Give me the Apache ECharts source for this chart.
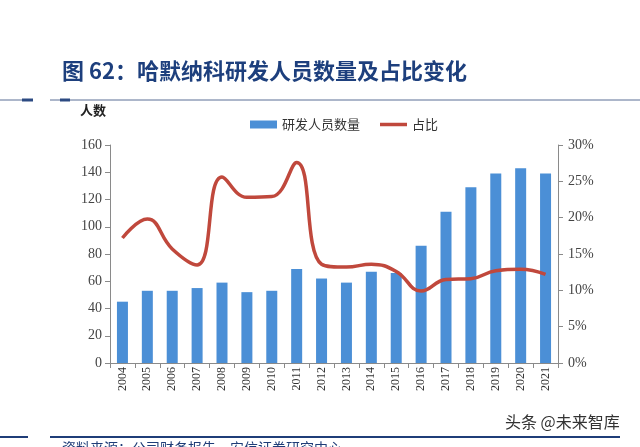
<!DOCTYPE html>
<html>
<head>
<meta charset="utf-8">
<script src="https://cdn.jsdelivr.net/npm/echarts@6/dist/echarts.min.js"></script>
<style>html,body{margin:0;padding:0;background:#fff;}#c{width:640px;height:447px;}</style>
</head>
<body>
<div id="c"></div>
<script>
const years = ['2004','2005','2006','2007','2008','2009','2010','2011','2012','2013','2014','2015','2016','2017','2018','2019','2020','2021'];
const staff = [45, 53, 53, 55, 59, 52, 53, 69, 62, 59, 67, 66, 86, 111, 129, 139, 143, 139];
const ratio = [17.2, 19.8, 15.7, 13.5, 25.6, 22.8, 22.9, 27.6, 13.6, 13.2, 13.6, 12.6, 9.9, 11.5, 11.6, 12.7, 12.9, 12.2];
const leftTicks = [0, 160, 20];
const rightTicks = [0, 30, 5];

const chart = echarts.init(document.getElementById('c'));
const serif = '"Liberation Serif", "DejaVu Serif", serif';
const cjk = '"Noto Sans CJK SC", sans-serif';
const axisLine = {show: true, lineStyle: {color: '#8a8a8a', width: 1}};
chart.setOption({
  animation: false,
  title: {
    text: '图 62：哈默纳科研发人员数量及占比变化',
    left: 57, top: 55,
    textStyle: {fontFamily: cjk, fontSize: 22, fontWeight: 'bold', color: '#1d3f7d'}
  },
  legend: {
    left: 245, top: 113,
    itemWidth: 27, itemHeight: 8, itemGap: 20,
    textStyle: {fontFamily: cjk, fontSize: 13, color: '#333'},
    data: [
      {name: '研发人员数量', icon: 'rect'},
      {name: '占比', icon: 'path://M0,0 L27,0 L27,3.5 L0,3.5 Z'}
    ]
  },
  grid: {left: 110, right: 82, top: 145, bottom: 84},
  xAxis: {
    type: 'category', data: years,
    axisLine: axisLine,
    axisTick: {show: true, alignWithLabel: false, length: 5, lineStyle: {color: '#8a8a8a'}},
    axisLabel: {rotate: 90, fontFamily: serif, fontSize: 12, color: '#333', margin: 4}
  },
  yAxis: [{
    type: 'value', min: leftTicks[0], max: leftTicks[1], interval: leftTicks[2],
    axisLine: axisLine,
    axisTick: {show: true, length: 5, lineStyle: {color: '#8a8a8a'}},
    splitLine: {show: false},
    axisLabel: {fontFamily: serif, fontSize: 14, color: '#444', margin: 8}
  }, {
    type: 'value', min: rightTicks[0], max: rightTicks[1], interval: rightTicks[2],
    axisLine: axisLine,
    axisTick: {show: true, length: 5, lineStyle: {color: '#8a8a8a'}},
    splitLine: {show: false},
    axisLabel: {fontFamily: serif, fontSize: 14, color: '#444', margin: 10, formatter: '{value}%'}
  }],
  series: [{
    name: '研发人员数量', type: 'bar', data: staff, barWidth: 11,
    itemStyle: {color: '#4b8fd6'}
  }, {
    name: '占比', type: 'line', yAxisIndex: 1, data: ratio, smooth: 0.45,
    symbol: 'none', lineStyle: {color: '#c0483c', width: 3.5},
    itemStyle: {color: '#c0483c'}
  }],
  graphic: [
    {type: 'line', shape: {x1: 0, y1: 100, x2: 28, y2: 100}, style: {stroke: '#5b6f95', lineWidth: 1}},
    {type: 'line', shape: {x1: 22, y1: 100, x2: 33, y2: 100}, style: {stroke: '#2c4a82', lineWidth: 3}},
    {type: 'line', shape: {x1: 50, y1: 100, x2: 640, y2: 100}, style: {stroke: '#5b6f95', lineWidth: 1}},
    {type: 'line', shape: {x1: 60, y1: 100, x2: 70, y2: 100}, style: {stroke: '#2c4a82', lineWidth: 3}},
    {type: 'text', left: 80, top: 104, style: {text: '人数', font: 'bold 13px "Noto Sans CJK SC"', fill: '#222'}},
    {type: 'text', left: 505, top: 414, style: {text: '头条 @未来智库', font: '16px "Noto Sans CJK SC"', fill: '#333'}},
    {type: 'line', shape: {x1: 0, y1: 437, x2: 28, y2: 437}, style: {stroke: '#1f3d78', lineWidth: 2}},
    {type: 'line', shape: {x1: 50, y1: 437, x2: 620, y2: 437}, style: {stroke: '#1f3d78', lineWidth: 2}},
    {type: 'text', left: 62, top: 441, style: {text: '资料来源：公司财务报告，安信证券研究中心', font: '14px "Noto Sans CJK SC"', fill: '#1f3d78'}}
  ]
});
</script>
</body>
</html>
